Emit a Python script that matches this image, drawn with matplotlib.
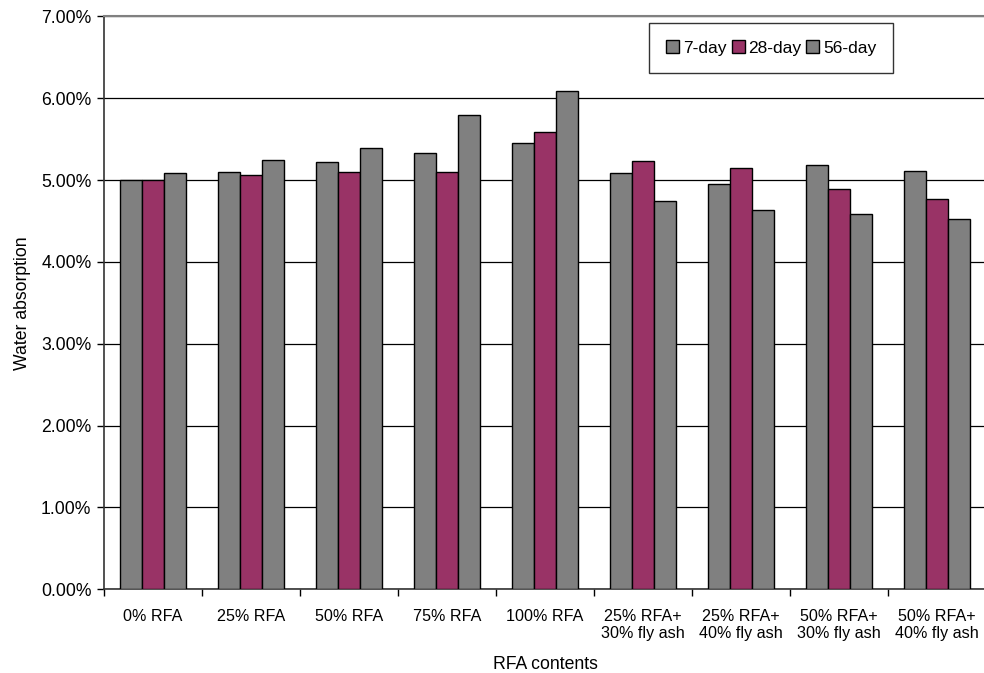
import numpy as np
import matplotlib
matplotlib.use("Agg")
import matplotlib.pyplot as plt
from matplotlib.ticker import PercentFormatter

plt.rcParams['font.family'] = ['Liberation Sans', 'DejaVu Sans']

categories = ["0% RFA", "25% RFA", "50% RFA", "75% RFA", "100% RFA",
              "25% RFA+\n30% fly ash", "25% RFA+\n40% fly ash",
              "50% RFA+\n30% fly ash", "50% RFA+\n40% fly ash"]
day7 = [5.00, 5.10, 5.22, 5.33, 5.45, 5.08, 4.95, 5.18, 5.11]
day28 = [5.00, 5.06, 5.10, 5.10, 5.59, 5.23, 5.15, 4.89, 4.77]
day56 = [5.09, 5.24, 5.39, 5.79, 6.09, 4.74, 4.63, 4.59, 4.52]
series = ["7-day", "28-day", "56-day"]
colors = ["#808080", "#993366", "#808080"]

fig = plt.figure(figsize=(9.84, 6.73), dpi=100)
ax = fig.add_axes([104 / 984, 1 - 589.3 / 673, 882 / 984, (589.3 - 16.3) / 673])

x = np.arange(len(categories))
w = 1 / 4.5
for i, (vals, name, c) in enumerate(zip([day7, day28, day56], series, colors)):
    ax.bar(x + (i - 1) * w, vals, w, color=c, edgecolor="black", linewidth=1.0,
           label=name, zorder=3)

ax.set_xlim(-0.5, len(categories) - 0.5)
ax.set_ylim(0, 7)
ax.set_yticks(np.arange(0, 8, 1))
ax.yaxis.set_major_formatter(PercentFormatter(decimals=2))
ax.grid(axis="y", color="black", linewidth=0.9, zorder=0)

# category boundaries get the ticks, labels sit in the middle
ax.set_xticks(np.arange(-0.5, len(categories), 1))
ax.set_xticklabels([])
ax.set_xticks(x, minor=True)
ax.set_xticklabels(categories, minor=True, fontsize=11.6)
ax.tick_params(axis="x", which="minor", length=0, pad=14)
ax.tick_params(axis="x", which="major", length=5, width=1, direction="out")
ax.tick_params(axis="y", length=5, width=1, labelsize=12.7, pad=4)

for s in ["left", "bottom"]:
    ax.spines[s].set_color("#333333")
    ax.spines[s].set_linewidth(1.2)
ax.spines["top"].set_color("#808080")
ax.spines["top"].set_linewidth(1.5)
ax.spines["right"].set_visible(False)

ax.set_ylabel("Water absorption", fontsize=12.7, labelpad=7)
ax.set_xlabel("RFA contents", fontsize=12.7, labelpad=11)

leg = fig.legend(loc="upper left", bbox_to_anchor=(649 / 984, 1 - 23 / 673),
                 ncol=3, fontsize=12.5, frameon=True, fancybox=False,
                 handlelength=0.75, handleheight=0.75, handletextpad=0.2,
                 columnspacing=0.3, borderpad=1.0, borderaxespad=0)
leg.get_frame().set_edgecolor("black")
leg.get_frame().set_linewidth(1.0)

fig.savefig("out.png", dpi=100)
